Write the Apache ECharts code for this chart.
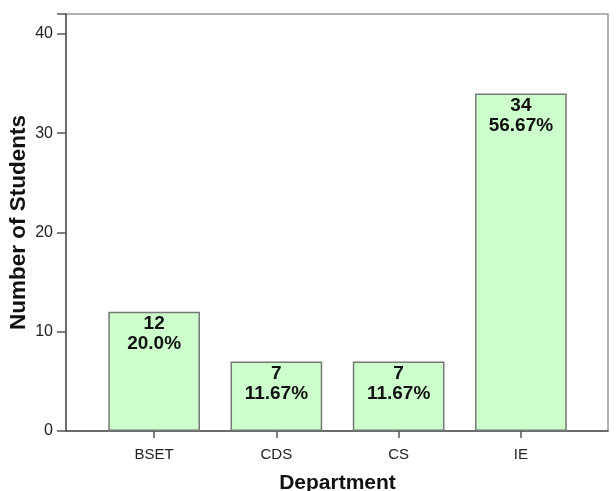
<!DOCTYPE html>
<html><head><meta charset="utf-8">
<script src="https://cdn.jsdelivr.net/npm/echarts@6/dist/echarts.min.js"></script>
<style>html,body{margin:0;padding:0;background:#fff}#c{width:616px;height:491px}</style>
</head><body><div id="c"></div>
<script>
const categories = ['BSET', 'CDS', 'CS', 'IE'];
const counts = [12, 7, 7, 34];
const percents = ['20.0%', '11.67%', '11.67%', '56.67%'];
const yTicks = [0, 10, 20, 30, 40];

const chart = echarts.init(document.getElementById('c'));
const font = 'Liberation Sans, Arial, sans-serif';
chart.setOption({
  animation: false,
  grid: [
    {left: 66, right: 8, top: 14, bottom: 60, containLabel: false, outerBoundsMode: 'none', show: true, borderColor: '#999', borderWidth: 1.5, backgroundColor: 'transparent'},
    {left: 93, right: 34, top: 14, bottom: 60, containLabel: false, outerBoundsMode: 'none'}
  ],
  xAxis: [
    {gridIndex: 0, type: 'value', min: 0, max: 1, axisLine: {show: true, onZero: false, lineStyle: {color: '#555', width: 1.5}}, axisTick: {show: false}, axisLabel: {show: false}, splitLine: {show: false}},
    {gridIndex: 1, type: 'category', data: categories, axisLine: {show: false}, axisTick: {show: true, alignWithLabel: true, length: 7, lineStyle: {color: '#555', width: 1.5}},
     axisLabel: {color: '#222', fontFamily: font, fontSize: 15, margin: 16},
     name: 'Department', nameLocation: 'middle', nameGap: 42, nameMoveOverlap: false, nameTextStyle: {color: '#111', fontFamily: font, fontSize: 21, fontWeight: 'bold'}}
  ],
  yAxis: [
    {gridIndex: 0, type: 'value', min: 0, max: 42, interval: 10,
     axisLine: {show: true, lineStyle: {color: '#555', width: 1.5}}, axisTick: {show: true, length: 9, lineStyle: {color: '#555', width: 1.5}},
     axisLabel: {color: '#222', fontFamily: font, fontSize: 16, margin: 13, formatter: v => yTicks.includes(v) ? String(v) : ''},
     splitLine: {show: false},
     name: 'Number of Students', nameLocation: 'middle', nameGap: 36, nameMoveOverlap: false, nameRotate: 90, nameTextStyle: {color: '#111', fontFamily: font, fontSize: 22.5, fontWeight: 'bold'}},
    {gridIndex: 1, type: 'value', min: 0, max: 42, interval: 10, show: false}
  ],
  series: [{
    type: 'bar', xAxisIndex: 1, yAxisIndex: 1, data: counts, barWidth: '75%',
    itemStyle: {color: '#ccffcc', borderColor: '#777', borderWidth: 1.5},
    label: {show: true, position: 'insideTop', distance: 2, color: '#111', fontFamily: font, fontSize: 19, fontWeight: 'bold', lineHeight: 20,
      formatter: p => counts[p.dataIndex] + '\n' + percents[p.dataIndex]}
  }]
});
</script></body></html>
